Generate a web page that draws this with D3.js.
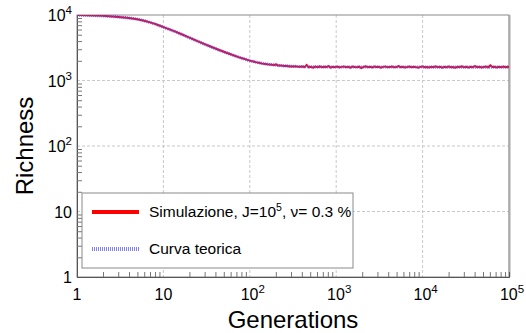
<!DOCTYPE html>
<html lang="en">
<head>
<meta charset="UTF-8">
<script src="https://d3js.org/d3.v7.min.js"></script>
<style>
  body { margin: 0; background: #fff; }
  text { font-family: "Liberation Sans", Arial, Helvetica, sans-serif; fill: #000; }
</style>
</head>
<body>
<div id="chart"></div>
<script>
// data
var simGen = [1, 2, 3, 4, 5, 6, 7, 8, 9, 10, 12, 14, 16, 18, 20, 23, 26, 30, 35, 40, 45, 50, 60, 70, 80, 90, 100, 110, 120, 130, 140,
  150, 159, 169, 179, 190, 201, 213, 226, 240, 254, 269, 285, 302, 320, 340, 360, 382, 405, 429, 455, 482, 511, 542, 574, 609, 645,
  684, 725, 769, 815, 864, 916, 971, 1029, 1091, 1156, 1225, 1299, 1377, 1459, 1547, 1640, 1738, 1842, 1953, 2070, 2194, 2326,
  2465, 2613, 2770, 2936, 3112, 3299, 3497, 3707, 3929, 4165, 4415, 4680, 4961, 5258, 5574, 5908, 6263, 6638, 7037, 7459, 7907,
  8381, 8884, 9417, 9982, 10581, 11216, 11889, 12602, 13358, 14160, 15009, 15910, 16864, 17876, 18949, 20086, 21291, 22568,
  23922, 25358, 26879, 28492, 30201, 32013, 33934, 35970, 38128, 40416, 42841, 45411, 48136, 51024, 54085, 57331, 60770,
  64417, 68282, 72378, 76721, 81325, 86204, 91376, 96859, 100000];
var simRich = [10000, 9720, 9360, 8980, 8610, 8150, 7720, 7330, 6920, 6540, 5980, 5520, 5130, 4800, 4520, 4180, 3890, 3590, 3310, 3080, 2900, 2750, 2520, 2340, 2200, 2100, 2010, 1950, 1890, 1850, 1810,
  1790, 1770, 1755, 1740, 1725, 1760, 1700, 1690, 1680, 1665, 1672, 1640, 1655, 1630, 1645, 1615, 1625, 1640, 1600, 1730, 1590, 1620,
  1570, 1635, 1600, 1640, 1590, 1620, 1605, 1660, 1575, 1625, 1600, 1635, 1585, 1615, 1640, 1595, 1620, 1575, 1635, 1605, 1590,
  1625, 1550, 1610, 1645, 1600, 1620, 1585, 1635, 1605, 1620, 1575, 1615, 1640, 1590, 1610, 1630, 1590, 1600, 1660, 1595, 1620,
  1580, 1605, 1635, 1590, 1620, 1600, 1565, 1615, 1640, 1595, 1610, 1585, 1625, 1600, 1650, 1590, 1615, 1575, 1620, 1600, 1635,
  1590, 1610, 1565, 1620, 1605, 1640, 1590, 1615, 1580, 1625, 1600, 1655, 1595, 1620, 1585, 1610, 1635, 1590, 1700, 1605, 1625,
  1585, 1615, 1600, 1635, 1590, 1620, 1610];
var theoGen = [1, 2, 3, 4, 5, 7, 10, 14, 20, 30, 40, 60, 80, 100, 150, 200, 300, 500, 1000, 100000];
var theoRich = [10000, 9700, 9350, 8970, 8600, 7700, 6520, 5500, 4500, 3580, 3070, 2510, 2200, 2010, 1800, 1710, 1650, 1620, 1608, 1605];

var xMajor = [1, 10, 100, 1000, 10000, 100000];
var xLabels = [["1", ""], ["10", ""], ["10", "2"], ["10", "3"], ["10", "4"], ["10", "5"]];
var yMajor = [1, 10, 100, 1000, 10000];
var yLabels = [["1", ""], ["10", ""], ["10", "2"], ["10", "3"], ["10", "4"]];
var legendNames = ["Simulazione, J=10", "Curva teorica"];

var W = 526, H = 333;
var margin = { top: 15, right: 17, bottom: 56, left: 77 };
var width = W - margin.left - margin.right,
    height = H - margin.top - margin.bottom;

var svg = d3.select("#chart").append("svg")
  .attr("width", W).attr("height", H);
var g = svg.append("g")
  .attr("transform", "translate(" + margin.left + "," + margin.top + ")");

var x = d3.scaleLog().domain([1, 1e5]).range([0, width]);
var y = d3.scaleLog().domain([1, 1e4]).range([height, 0]);

// minor tick values
var xMinor = [], yMinor = [];
xMajor.slice(0, -1).forEach(function (d) { for (var k = 2; k < 10; k++) xMinor.push(d * k); });
yMajor.slice(0, -1).forEach(function (d) { for (var k = 2; k < 10; k++) yMinor.push(d * k); });

// dashed grid
g.append("g").selectAll("line").data(xMajor.slice(1, -1)).enter().append("line")
  .attr("x1", d => x(d)).attr("x2", d => x(d)).attr("y1", 0).attr("y2", height)
  .attr("stroke", "#c8c8c8").attr("stroke-dasharray", "3,2");
g.append("g").selectAll("line").data(yMajor.slice(1, -1)).enter().append("line")
  .attr("y1", d => y(d)).attr("y2", d => y(d)).attr("x1", 0).attr("x2", width)
  .attr("stroke", "#c8c8c8").attr("stroke-dasharray", "3,2");

// frame
g.append("rect").attr("width", width).attr("height", height)
  .attr("fill", "none").attr("stroke", "#8a8a8a");
g.append("line").attr("x1", width + 0.5).attr("x2", width + 0.5).attr("y1", 0).attr("y2", height)
  .attr("stroke", "#aaa").attr("stroke-width", 2);

// axes
var xAxis = g.append("g").attr("transform", "translate(0," + height + ")")
  .call(d3.axisBottom(x).tickValues(xMajor).tickSize(0).tickFormat(""));
var xMinorAxis = g.append("g").attr("transform", "translate(0," + height + ")")
  .call(d3.axisBottom(x).tickValues(xMinor).tickSize(-5).tickFormat(""));
var yAxis = g.append("g")
  .call(d3.axisLeft(y).tickValues(yMajor).tickSize(0).tickFormat(""));
var yMinorAxis = g.append("g")
  .call(d3.axisLeft(y).tickValues(yMinor).tickSize(-5).tickFormat(""));
[xAxis, xMinorAxis, yAxis, yMinorAxis].forEach(function (a) {
  a.select(".domain").attr("stroke", "#555");
  a.selectAll(".tick line").attr("stroke", "#777");
});

// tick labels with superscripts
function supLabel(sel, parts) {
  sel.append("tspan").text(parts[0]);
  if (parts[1]) sel.append("tspan").attr("font-size", 11.5).attr("dy", -7).text(parts[1]);
}
xMajor.forEach(function (d, i) {
  var t = g.append("text").attr("x", x(d) + (xLabels[i][1] ? 3 : 0)).attr("y", height + 23)
    .attr("text-anchor", "middle").attr("font-size", 16);
  supLabel(t, xLabels[i]);
});
yMajor.forEach(function (d, i) {
  var t = g.append("text").attr("x", -5).attr("y", y(d) + 6)
    .attr("text-anchor", "end").attr("font-size", 16);
  supLabel(t, yLabels[i]);
});

// axis titles
svg.append("text").attr("x", margin.left + width / 2).attr("y", 328)
  .attr("text-anchor", "middle").attr("font-size", 24).text("Generations");
svg.append("text").attr("transform", "translate(33," + (margin.top + height / 2) + ") rotate(-90)")
  .attr("text-anchor", "middle").attr("font-size", 24).text("Richness");

// lines
var clip = svg.append("clipPath").attr("id", "clip").append("rect")
  .attr("width", width).attr("height", height);
var sim = simGen.map((d, i) => [d, simRich[i]]);
var theo = theoGen.map((d, i) => [d, theoRich[i]]);
var line = d3.line().x(d => x(d[0])).y(d => y(d[1]));
var lineSmooth = d3.line().x(d => x(d[0])).y(d => y(d[1])).curve(d3.curveMonotoneX);

g.append("path").datum(sim).attr("d", line).attr("fill", "none")
  .attr("stroke", "#ff0000").attr("stroke-width", 2).attr("clip-path", "url(#clip)");
g.append("path").datum(theo).attr("d", lineSmooth).attr("fill", "none")
  .attr("stroke", "#5050ff").attr("stroke-width", 3.2).attr("stroke-opacity", 0.8)
  .attr("stroke-dasharray", "1,1").attr("clip-path", "url(#clip)");

// legend
var lg = svg.append("g").attr("transform", "translate(82,193)");
lg.append("rect").attr("width", 271).attr("height", 75)
  .attr("fill", "#fff").attr("stroke", "#8a8a8a");
lg.append("line").attr("x1", 10).attr("x2", 57).attr("y1", 19).attr("y2", 19)
  .attr("stroke", "#ff0000").attr("stroke-width", 4);
lg.append("line").attr("x1", 10).attr("x2", 57).attr("y1", 56).attr("y2", 56)
  .attr("stroke", "#6060ff").attr("stroke-width", 4).attr("stroke-opacity", 0.8)
  .attr("stroke-dasharray", "1,1");
var t1 = lg.append("text").attr("x", 67).attr("y", 24).attr("font-size", 15.5);
t1.append("tspan").text(legendNames[0]);
t1.append("tspan").attr("font-size", 10.5).attr("dy", -6).text("5");
t1.append("tspan").attr("dy", 6).text(", \u03bd= 0.3 %");
lg.append("text").attr("x", 67).attr("y", 61).attr("font-size", 15.5).text(legendNames[1]);
</script>
</body>
</html>
